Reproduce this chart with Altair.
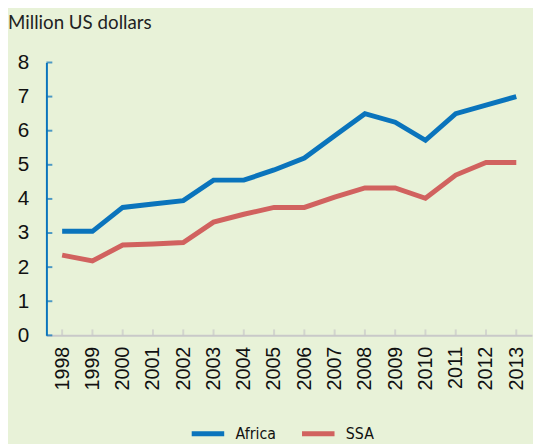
import altair as alt
import pandas as pd

years = [str(y) for y in range(1998, 2014)]
africa = [3.05, 3.05, 3.75, 3.85, 3.95, 4.55, 4.55, 4.85, 5.2, 5.85, 6.5, 6.25, 5.72, 6.5, 6.75, 7.0]
ssa = [2.35, 2.18, 2.65, 2.68, 2.72, 3.32, 3.55, 3.75, 3.75, 4.05, 4.32, 4.32, 4.02, 4.7, 5.07, 5.07]
series = ["Africa", "SSA"]
colors = ["#0A74BC", "#D1625F"]
y_ticks = [0, 1, 2, 3, 4, 5, 6, 7, 8]
title_text = "Million US dollars"

rows = []
for s, vals in zip(series, [africa, ssa]):
    for y, v in zip(years, vals):
        rows.append({"year": y, "value": v, "series": s})
df = pd.DataFrame(rows)

W, H = 493, 277
x_scale = alt.Scale(type="point", padding=0.52)
y_scale = alt.Scale(domain=[0, 8], nice=False, zero=True)
label_font = "Liberation Sans, Arial, sans-serif"
narrow_font = "Liberation Sans Narrow, DejaVu Sans Condensed, sans-serif"

x_axis = alt.Axis(title=None, labelAngle=270, labelAlign="right", labelBaseline="middle",
                  labelFont=label_font, labelFontSize=20, labelColor="#111",
                  labelPadding=11, ticks=False, tickSize=0, domainColor="#C9C9C9",
                  domainWidth=2, grid=False)
y_axis = alt.Axis(title=None, values=y_ticks, labelFont=label_font, labelFontSize=21,
                  labelColor="#111", labelPadding=18, ticks=False, tickSize=0,
                  domainColor="#0A74BC", domainWidth=2, grid=False)

lines = alt.Chart(df).mark_line(strokeWidth=5, strokeCap="butt", strokeJoin="miter").encode(
    x=alt.X("year:O", scale=x_scale, sort=years, axis=x_axis),
    y=alt.Y("value:Q", scale=y_scale, axis=y_axis),
    color=alt.Color("series:N", scale=alt.Scale(domain=series, range=colors),
                    legend=alt.Legend(title=None, orient="none", direction="horizontal",
                                      legendX=145, legendY=358, symbolType="stroke",
                                      symbolSize=1089, symbolStrokeWidth=5,
                                      labelFont=narrow_font, labelFontSize=16, labelColor="#111",
                                      labelOffset=9, columnPadding=16)),
)

xt = alt.Chart(pd.DataFrame({"year": years})).mark_tick(
    orient="vertical", color="#C9C9C9", thickness=2, size=6
).encode(x=alt.X("year:O", scale=x_scale, sort=years, axis=x_axis), y=alt.value(H - 3))

yt = alt.Chart(pd.DataFrame({"value": y_ticks})).mark_tick(
    orient="horizontal", color="#0A74BC", thickness=2, size=6
).encode(y=alt.Y("value:Q", scale=y_scale, axis=y_axis), x=alt.value(3))

title = alt.Chart(pd.DataFrame({"t": [title_text]})).mark_text(
    align="left", baseline="alphabetic", font="Lato, Open Sans, sans-serif", fontSize=19, color="#222"
).encode(text="t:N", x=alt.value(-39), y=alt.value(-34))

chart = alt.layer(lines, xt, yt, title).properties(
    width=W, height=H,
    autosize=alt.AutoSizeParams(type="none"),
    padding={"left": 39, "top": 52, "right": 1, "bottom": 107},
    background="#E8F2D8",
).configure_view(stroke=None)

chart.save("out.html", embed_options={"renderer": "svg", "actions": False})
